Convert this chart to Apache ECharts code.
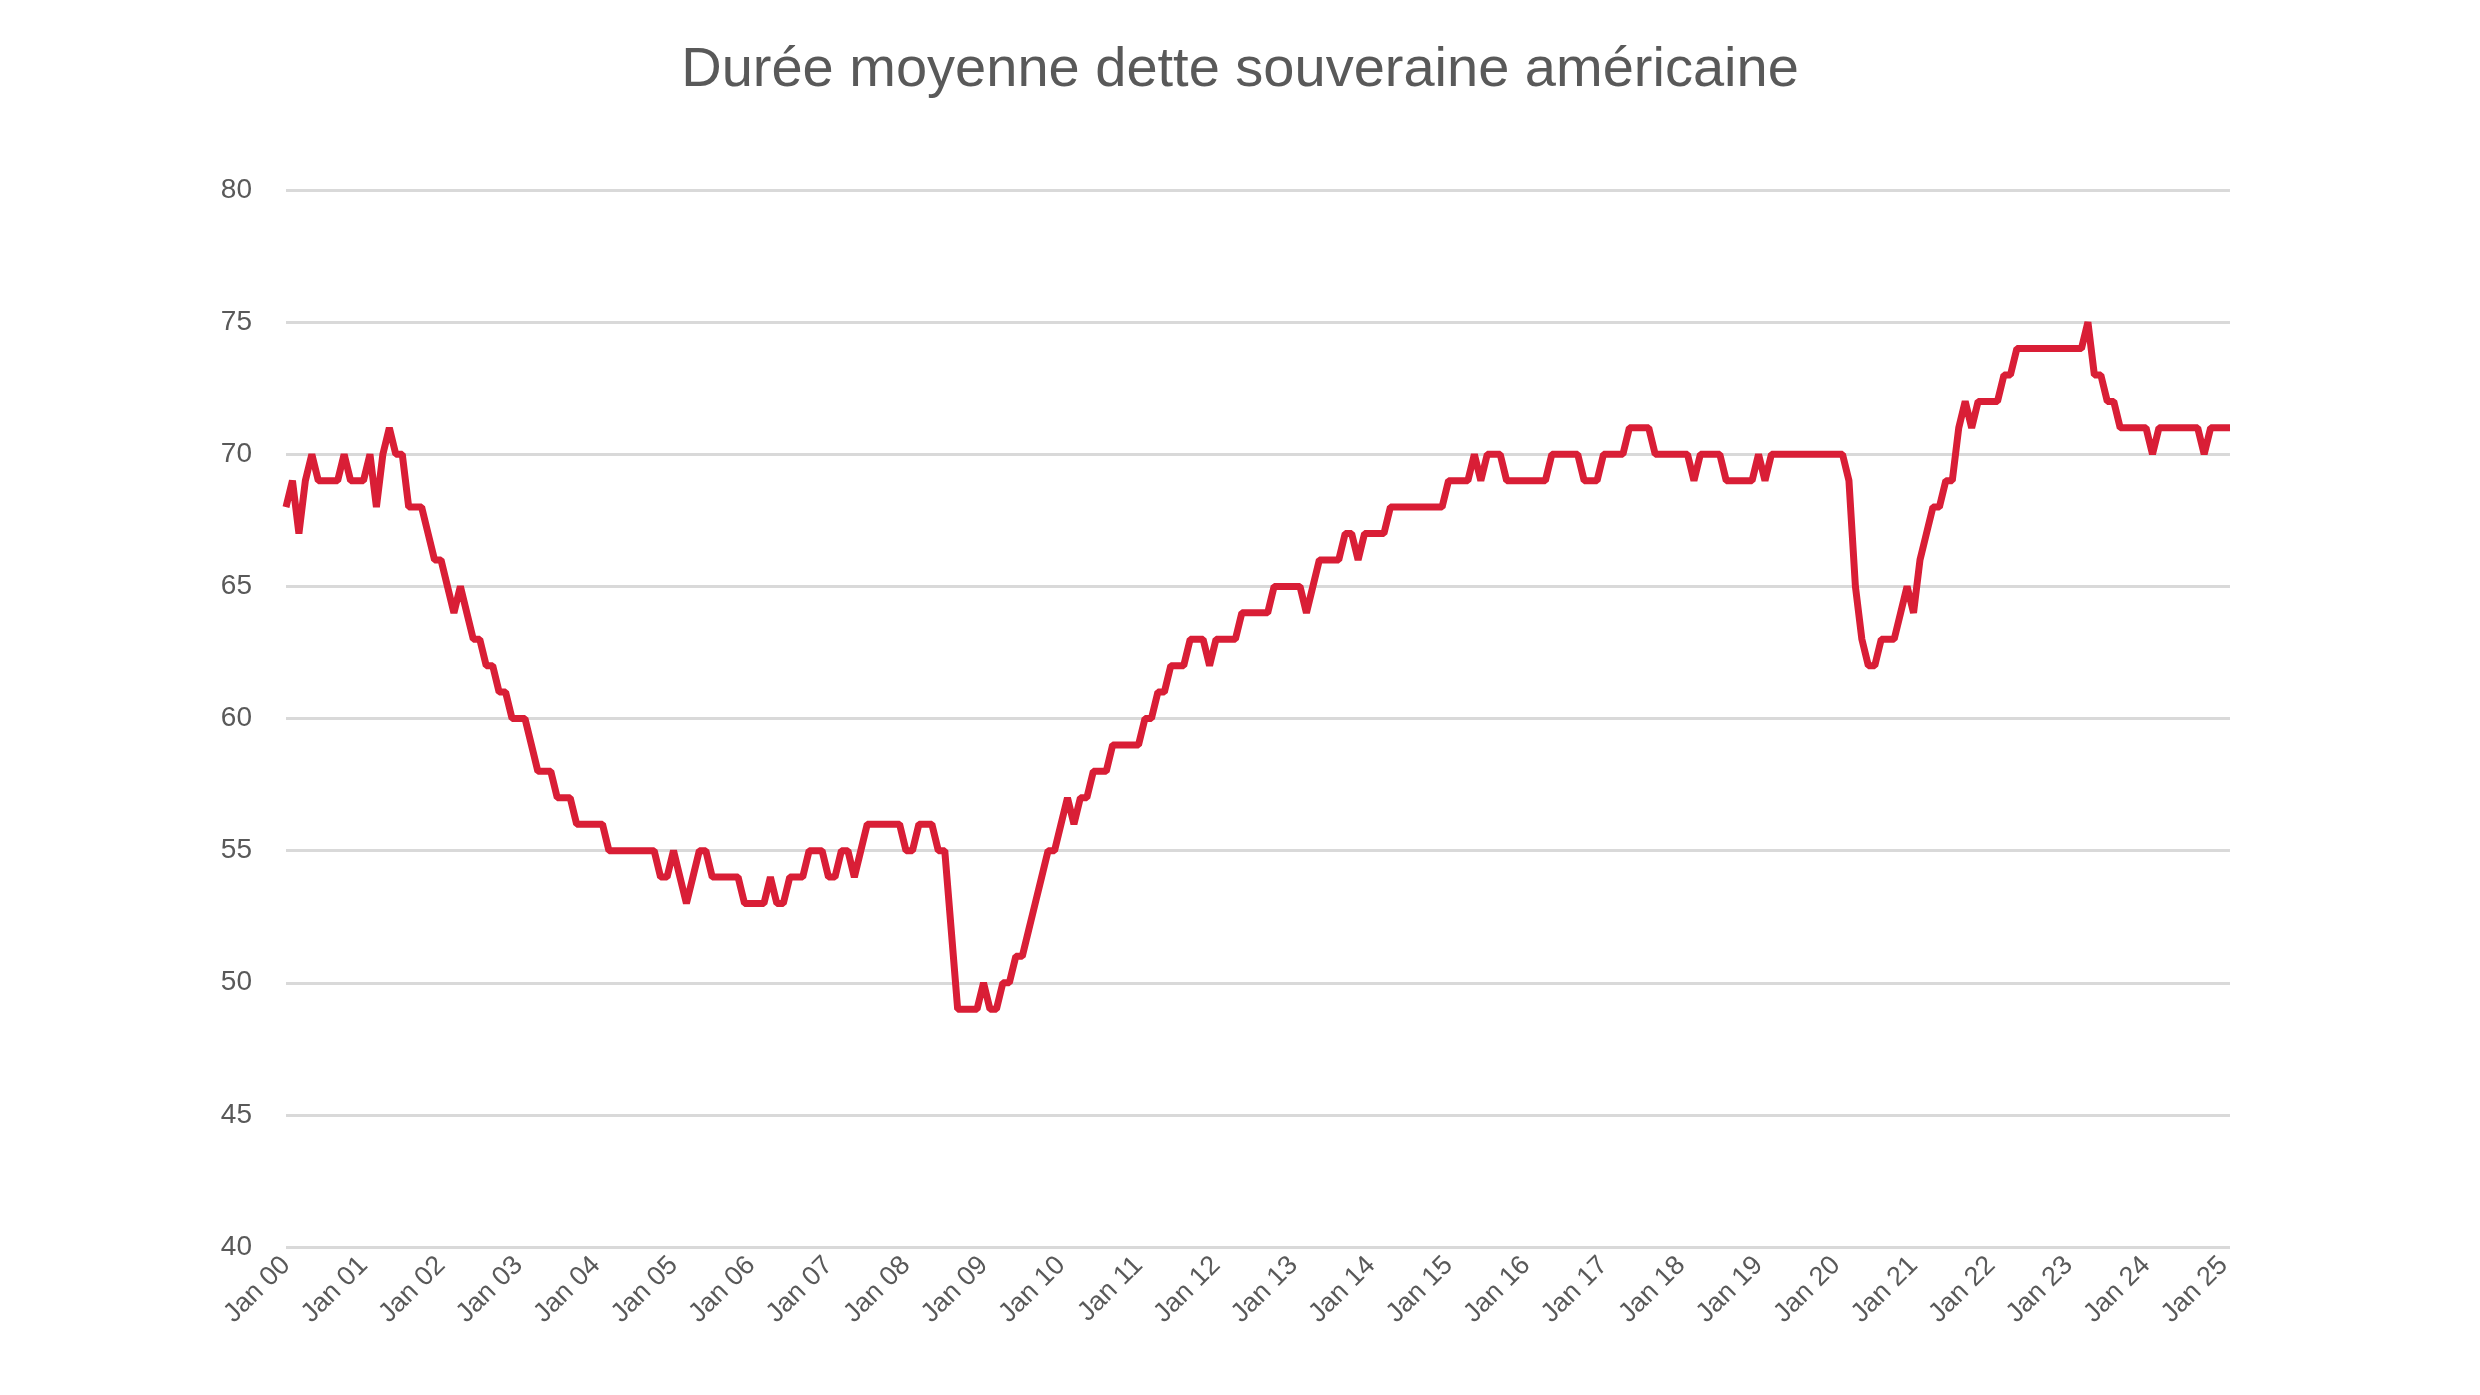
<!DOCTYPE html>
<html><head><meta charset="utf-8">
<script src="https://cdn.jsdelivr.net/npm/echarts@6/dist/echarts.min.js"></script>
<style>html,body{margin:0;padding:0;background:#fff}#c{width:2480px;height:1395px}</style>
</head><body><div id="c"></div>
<script>
const title = "Durée moyenne dette souveraine américaine";
const startYear = 2000;
const values = [
68,69,67,69,70,69,69,69,69,70,69,69,
69,70,68,70,71,70,70,68,68,68,67,66,
66,65,64,65,64,63,63,62,62,61,61,60,
60,60,59,58,58,58,57,57,57,56,56,56,
56,56,55,55,55,55,55,55,55,55,54,54,
55,54,53,54,55,55,54,54,54,54,54,53,
53,53,53,54,53,53,54,54,54,55,55,55,
54,54,55,55,54,55,56,56,56,56,56,56,
55,55,56,56,56,55,55,52,49,49,49,49,
50,49,49,50,50,51,51,52,53,54,55,55,
56,57,56,57,57,58,58,58,59,59,59,59,
59,60,60,61,61,62,62,62,63,63,63,62,
63,63,63,63,64,64,64,64,64,65,65,65,
65,65,64,65,66,66,66,66,67,67,66,67,
67,67,67,68,68,68,68,68,68,68,68,68,
69,69,69,69,70,69,70,70,70,69,69,69,
69,69,69,69,70,70,70,70,70,69,69,69,
70,70,70,70,71,71,71,71,70,70,70,70,
70,70,69,70,70,70,70,69,69,69,69,69,
70,69,70,70,70,70,70,70,70,70,70,70,
70,70,69,65,63,62,62,63,63,63,64,65,
64,66,67,68,68,69,69,71,72,71,72,72,
72,72,73,73,74,74,74,74,74,74,74,74,
74,74,74,75,73,73,72,72,71,71,71,71,
71,70,71,71,71,71,71,71,71,70,71,71,
71,71
];
const months = values.map((v,i)=>{
  const y = startYear + Math.floor(i/12), m = i%12;
  return m===0 ? "Jan " + String(y%100).padStart(2,"0") : "m"+i;
});
const chart = echarts.init(document.getElementById('c'));
chart.setOption({
  animation:false,
  title:{text:title,left:'center',top:38,textStyle:{fontSize:56,fontWeight:'normal',color:'#595959',fontFamily:'Liberation Sans'}},
  grid:{left:286,right:250,top:190,bottom:148},
  xAxis:{type:'category',data:months,boundaryGap:false,
    axisTick:{show:false},axisLine:{show:false},
    axisLabel:{interval:(i)=>i%12===0,rotate:45,fontSize:27,color:'#595959',margin:14,fontFamily:'Liberation Sans'}},
  yAxis:{type:'value',min:40,max:80,interval:5,
    axisLabel:{fontSize:28,color:'#595959',margin:34,fontFamily:'Liberation Sans'},
    splitLine:{lineStyle:{color:'#d9d9d9',width:3}}},
  series:[{type:'line',data:values,symbol:'none',lineStyle:{color:'#d91e36',width:7},itemStyle:{color:'#d91e36'}}]
});
</script></body></html>
